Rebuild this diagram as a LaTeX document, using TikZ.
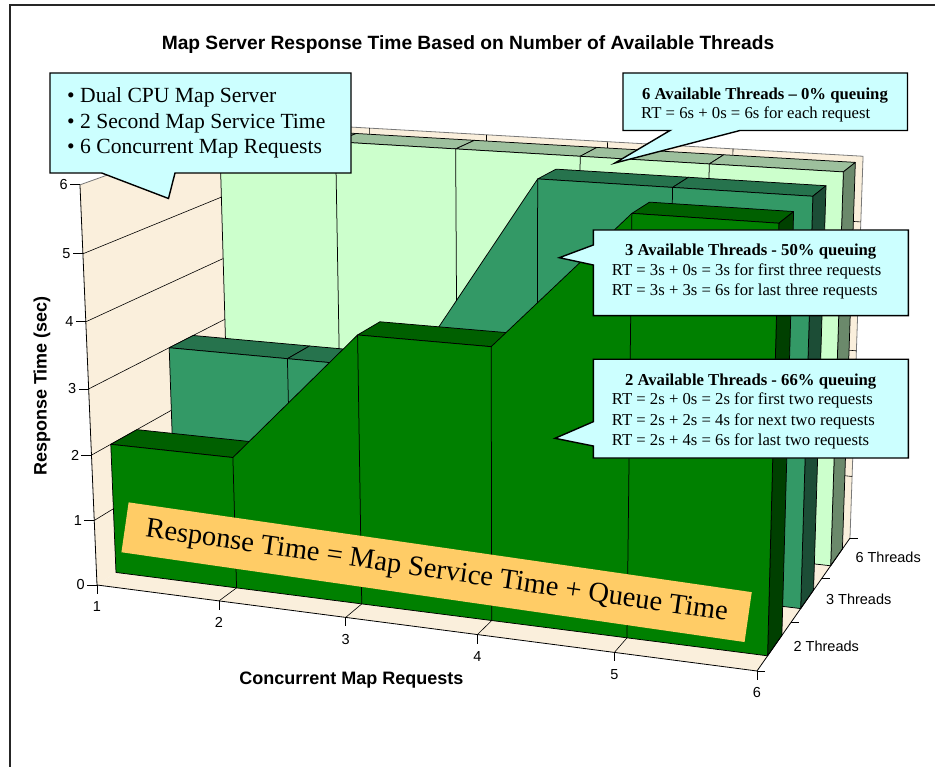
\documentclass[tikz,border=0pt]{standalone}
\usepackage{fontspec}
\setmainfont{Liberation Serif}
\setsansfont{Liberation Sans}
\usetikzlibrary{calc}

\definecolor{wallc}{RGB}{250,239,220}
\definecolor{walledge}{RGB}{120,120,120}
\definecolor{sTwoF}{RGB}{0,128,0}
\definecolor{sTwoT}{RGB}{0,96,0}
\definecolor{sTwoS}{RGB}{0,64,0}
\definecolor{sThrF}{RGB}{51,153,102}
\definecolor{sThrT}{RGB}{38,115,77}
\definecolor{sThrS}{RGB}{28,77,54}
\definecolor{sSixF}{RGB}{204,255,204}
\definecolor{sSixT}{RGB}{157,192,157}
\definecolor{sSixS}{RGB}{107,137,107}
\definecolor{callc}{RGB}{204,255,255}
\definecolor{bannerc}{RGB}{255,204,102}
\definecolor{framec}{RGB}{38,38,38}

% Perspective chart coordinates: (ch cs:X,Y,W)
% X = request number (1..6), Y = seconds (0..6), W = depth (0 front .. 1 back wall)
\tikzdeclarecoordinatesystem{ch}{\chparse#1\relax}
\def\chparse#1,#2,#3\relax{%
  \pgfmathsetmacro\chd{1-0.01859*((#1)-1)-0.00654*(#2)+0.1437*(#3)}%
  \pgfmathsetmacro\chx{(97+117.93*((#1)-1)-3.36*(#2)+206.5*(#3))/\chd}%
  \pgfmathsetmacro\chy{(585+4.73*((#1)-1)-67.9*(#2)-43.2*(#3))/\chd}%
  \pgfpoint{\chx pt}{-\chy pt}}

\begin{document}
\begin{tikzpicture}[x=1pt,y=-1pt,
  facet/.style={draw=black,line width=0.75pt,line join=round},
  gridln/.style={draw=black,line width=0.6pt},
  axisln/.style={draw=black,line width=0.8pt},
  callout/.style={fill=callc,draw=black,line width=1.4pt,line join=miter},
  ticklab/.style={font=\sffamily\fontsize{14.5}{17}\selectfont,inner sep=0pt},
  axtitle/.style={font=\sffamily\bfseries\fontsize{18}{21}\selectfont,inner sep=0pt},
  calltitle/.style={font=\bfseries\fontsize{16.7}{19}\selectfont,inner sep=0pt},
  calltext/.style={font=\fontsize{16.7}{19}\selectfont,inner sep=0pt},
  bullettext/.style={font=\fontsize{21.6}{25}\selectfont,inner sep=0pt}]

\useasboundingbox (0,0) rectangle (935,767);
\fill[white] (0,0) rectangle (935,767);

% outer frame
\draw[framec,line width=2.5pt] (10,767) -- (10,5) -- (935,5);

% title
\node[font=\sffamily\bfseries\fontsize{19.2}{22}\selectfont,inner sep=0pt] (title) at (468,45)
  {Map Server Response Time Based on Number of Available Threads};

% ---------- walls and floor ----------
\fill[wallc] (ch cs:1,0,0) -- (ch cs:1,0,1) -- (ch cs:1,6,1) -- (ch cs:1,6,0) -- cycle;
\fill[wallc] (ch cs:1,0,1) -- (ch cs:6,0,1) -- (ch cs:6,6,1) -- (ch cs:1,6,1) -- cycle;
\fill[wallc] (ch cs:1,0,0) -- (ch cs:6,0,0) -- (ch cs:6,0,1) -- (ch cs:1,0,1) -- cycle;
\draw[walledge,line width=0.8pt] (ch cs:1,6,0) -- (ch cs:1,6,1) -- (ch cs:6,6,1) -- (ch cs:6,0,1);

% gridlines
\foreach \v in {1,...,5} {
  \draw[gridln] (ch cs:1,\v,0) -- (ch cs:1,\v,1) -- (ch cs:6,\v,1);
}
\foreach \a in {2,...,5} {
  \draw[gridln] (ch cs:\a,0,0) -- (ch cs:\a,0,1) -- (ch cs:\a,6,1);
}

% ---------- series: 6 threads (back) ----------
\def\chf{0.7667}\def\chb{0.9067}
\foreach \a/\b in {1/2,2/3,3/4,4/5,5/6}
  \filldraw[facet,fill=sSixT] (ch cs:\a,6,\chf) -- (ch cs:\b,6,\chf) -- (ch cs:\b,6,\chb) -- (ch cs:\a,6,\chb) -- cycle;
\filldraw[facet,fill=sSixS] (ch cs:6,0,\chf) -- (ch cs:6,6,\chf) -- (ch cs:6,6,\chb) -- (ch cs:6,0,\chb) -- cycle;
\filldraw[facet,fill=sSixF] (ch cs:1,0,\chf) -- (ch cs:1,6,\chf) -- (ch cs:6,6,\chf) -- (ch cs:6,0,\chf) -- cycle;
\foreach \a in {2,...,5}
  \draw[facet] (ch cs:\a,0,\chf) -- (ch cs:\a,6,\chf);

% ---------- series: 3 threads (middle) ----------
\def\chf{0.4333}\def\chb{0.5733}
\foreach \a/\b/\v in {1/2/3,2/3/3,4/5/6,5/6/6}
  \filldraw[facet,fill=sThrT] (ch cs:\a,\v,\chf) -- (ch cs:\b,\v,\chf) -- (ch cs:\b,\v,\chb) -- (ch cs:\a,\v,\chb) -- cycle;
\filldraw[facet,fill=sThrS] (ch cs:6,0,\chf) -- (ch cs:6,6,\chf) -- (ch cs:6,6,\chb) -- (ch cs:6,0,\chb) -- cycle;
\filldraw[facet,fill=sThrF] (ch cs:1,0,\chf) -- (ch cs:1,3,\chf) -- (ch cs:3,3,\chf) -- (ch cs:4,6,\chf)
  -- (ch cs:6,6,\chf) -- (ch cs:6,0,\chf) -- cycle;
\foreach \a/\v in {2/3,3/3,4/6,5/6}
  \draw[facet] (ch cs:\a,0,\chf) -- (ch cs:\a,\v,\chf);

% ---------- series: 2 threads (front) ----------
\def\chf{0.1}\def\chb{0.24}
\foreach \a/\b/\v in {1/2/2,3/4/4,5/6/6}
  \filldraw[facet,fill=sTwoT] (ch cs:\a,\v,\chf) -- (ch cs:\b,\v,\chf) -- (ch cs:\b,\v,\chb) -- (ch cs:\a,\v,\chb) -- cycle;
\filldraw[facet,fill=sTwoS] (ch cs:6,0,\chf) -- (ch cs:6,6,\chf) -- (ch cs:6,6,\chb) -- (ch cs:6,0,\chb) -- cycle;
\filldraw[facet,fill=sTwoF] (ch cs:1,0,\chf) -- (ch cs:1,2,\chf) -- (ch cs:2,2,\chf) -- (ch cs:3,4,\chf)
  -- (ch cs:4,4,\chf) -- (ch cs:5,6,\chf) -- (ch cs:6,6,\chf) -- (ch cs:6,0,\chf) -- cycle;
\foreach \a/\v in {2/2,3/4,4/4,5/6}
  \draw[facet] (ch cs:\a,0,\chf) -- (ch cs:\a,\v,\chf);

% ---------- axes ----------
\draw[axisln] (ch cs:1,6,0) -- (ch cs:1,0,0) -- (ch cs:6,0,0) -- (ch cs:6,0,1);
\foreach \v in {0,...,6}
  \draw[axisln] (ch cs:1,\v,0) -- ++(-10,0) node[ticklab,anchor=east,xshift=-2pt] (yl\v) {\v};
\foreach \a in {1,...,6} {
  \draw[axisln] (ch cs:\a,0,0) -- ++(0,9);
  \node[ticklab] (xl\a) at ($(ch cs:\a,0,0)+(0,22)$) {\a};
}
\foreach \w in {0,0.3333,0.6667,1}
  \draw[axisln] (ch cs:6,0,\w) -- ++(8,0);
\foreach \w/\t/\n in {0.1667/2 Threads/a,0.5/3 Threads/b,0.8333/6 Threads/c}
  \node[ticklab,anchor=west] (zl\n) at ($(ch cs:6,0,\w)+(19,0)$) {\t};

\node[axtitle,rotate=90] (ytitle) at (42,386) {Response Time (sec)};
\node[axtitle] (xtitle) at (351.5,680) {Concurrent Map Requests};

% ---------- banner ----------
\node[fill=bannerc,minimum width=629.6pt,minimum height=50.4pt,inner sep=0pt,rotate=-8.2,
  font=\fontsize{28.5}{32}\selectfont] (banner) at (436.6,572.2)
  {Response Time = Map Service Time + Queue Time};

% ---------- callouts ----------
\filldraw[callout] (50,73) -- (351,73) -- (351,173) -- (175,173) -- (168.5,198.5)
  -- (101.7,173) -- (50,173) -- cycle;
\node[bullettext,anchor=base west] (cA1) at (67,102.7) {• Dual CPU Map Server};
\node[bullettext,anchor=base west] (cA2) at (67,128.3) {• 2 Second Map Service Time};
\node[bullettext,anchor=base west] (cA3) at (67,154) {• 6 Concurrent Map Requests};

\filldraw[callout] (623,73) -- (907.5,73) -- (907.5,130.5) -- (740,130.5) -- (615,163)
  -- (670,130.5) -- (623,130.5) -- cycle;
\node[calltitle,anchor=base] (cB1) at (765,99.3) {6 Available Threads – 0\% queuing};
\node[calltext,anchor=base west] (cB2) at (641,119) {RT = 6s + 0s = 6s for each request};

\filldraw[callout] (593.3,230) -- (908.3,230) -- (908.3,315.7) -- (593.3,315.7) -- (593.3,265)
  -- (559.3,257.7) -- (593.3,245) -- cycle;
\node[calltitle,anchor=base] (cC1) at (750.7,256) {3 Available Threads - 50\% queuing};
\node[calltext,anchor=base west] (cC2) at (611.7,276) {RT = 3s + 0s = 3s for first three requests};
\node[calltext,anchor=base west] (cC3) at (611.7,295.7) {RT = 3s + 3s = 6s for last three requests};

\filldraw[callout] (593.3,359.3) -- (908.3,359.3) -- (908.3,458) -- (593.3,458) -- (593.3,446)
  -- (555,438.3) -- (593.3,421.7) -- cycle;
\node[calltitle,anchor=base] (cD1) at (750.7,385.7) {2 Available Threads - 66\% queuing};
\node[calltext,anchor=base west] (cD2) at (611.7,405) {RT = 2s + 0s = 2s for first two requests};
\node[calltext,anchor=base west] (cD3) at (611.7,425) {RT = 2s + 2s = 4s for next two requests};
\node[calltext,anchor=base west] (cD4) at (611.7,445) {RT = 2s + 4s = 6s for last two requests};

\end{tikzpicture}
\end{document}
